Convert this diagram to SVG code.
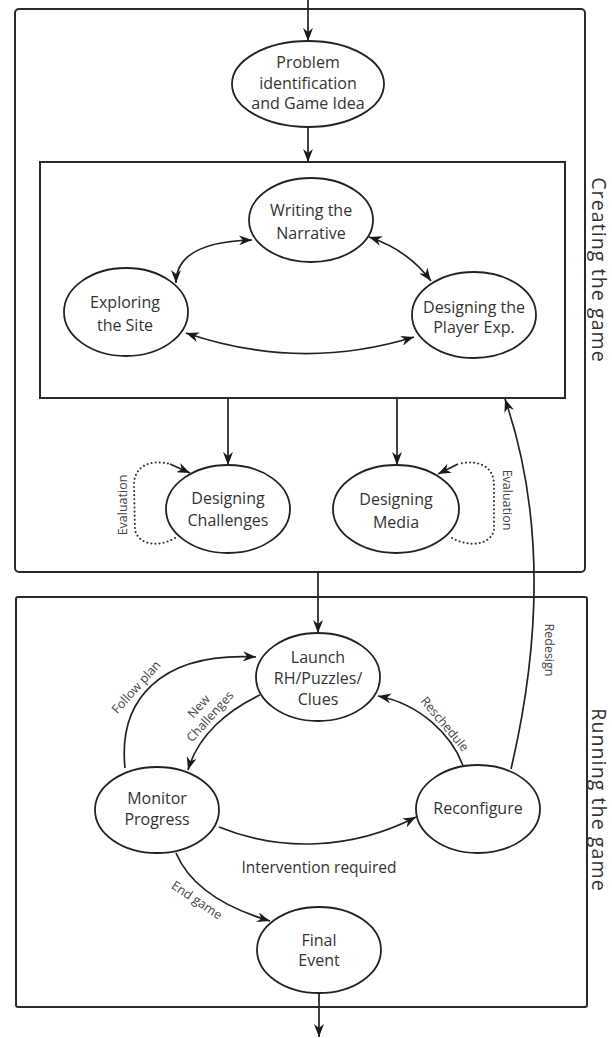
<svg xmlns="http://www.w3.org/2000/svg" width="612" height="1038" viewBox="0 0 612 1038">
  <style>
    .box { fill: none; stroke: #2a2a2a; stroke-width: 2; }
    .node ellipse { fill: #fff; stroke: #222; stroke-width: 1.8; }
    .node text { font-family: "Open Sans", "Noto Sans", sans-serif; font-size: 16px; fill: #333; text-anchor: middle; }
    .edge { fill: none; stroke: #222; stroke-width: 1.7; }
    .arr { marker-end: url(#head); }
    .both { marker-start: url(#head); marker-end: url(#head); }
    .dots { fill: none; stroke: #333; stroke-width: 2; stroke-dasharray: 0.1 4; stroke-linecap: round; }
    .lbl { font-family: "Open Sans", "Noto Sans", sans-serif; font-size: 12.5px; fill: #444; text-anchor: middle; }
    .mid { font-family: "Open Sans", "Noto Sans", sans-serif; font-size: 15.5px; fill: #333; text-anchor: middle; }
    .side { font-family: "Open Sans", "Noto Sans", sans-serif; font-size: 19.5px; fill: #333; text-anchor: middle; letter-spacing: 1.1px; }
  </style>
  <defs>
    <marker id="head" markerUnits="userSpaceOnUse" markerWidth="14" markerHeight="10" refX="13" refY="5" orient="auto-start-reverse">
      <path d="M0,0 L13,5 L0,10 L4,5 Z" fill="#1a1a1a"/>
    </marker>
  </defs>

  <rect width="612" height="1038" fill="#fff"/>

  <!-- phase frames -->
  <g id="creating-frame">
    <rect class="box" x="15" y="9" width="570" height="563" rx="4"/>
    <rect class="box" x="40" y="162" width="525" height="236"/>
    <text class="side" transform="translate(599,270) rotate(90)" dominant-baseline="central">Creating the game</text>
  </g>
  <g id="running-frame">
    <rect class="box" x="16" y="597" width="571" height="410" rx="2"/>
    <text class="side" transform="translate(599,800) rotate(90)" dominant-baseline="central">Running the game</text>
  </g>

  <!-- connectors -->
  <g id="connectors">
    <line class="edge arr" x1="308" y1="0" x2="308" y2="41"/>
    <line class="edge arr" x1="308" y1="127" x2="308" y2="162"/>
    <path class="edge both" d="M252,240 Q176,242 176,283"/>
    <path class="edge both" d="M369,237 Q408,250 431,281"/>
    <path class="edge both" d="M186,333 Q300,372 414,337"/>
    <line class="edge arr" x1="228" y1="398" x2="228" y2="465"/>
    <line class="edge arr" x1="397" y1="398" x2="397" y2="465"/>
    <path class="dots" d="M175,538 C160,547 139,546 135,530 L134,485 C134,466 150,459 170,464"/>
    <path class="edge arr" d="M170,464 L190,473"/>
    <path class="dots" d="M452,538 C468,547 490,546 494,530 L494,485 C494,466 478,459 458,464"/>
    <path class="edge arr" d="M458,464 L438,474"/>
    <line class="edge arr" x1="318" y1="572" x2="318" y2="633"/>
    <path class="edge arr" d="M511,769 Q560,560 505,399"/>
    <path class="edge arr" d="M125,768 C118,700 160,652 256,657"/>
    <path class="edge arr" d="M260,695 C228,710 198,735 188,770"/>
    <path class="edge arr" d="M463,766 C452,735 420,704 378,696"/>
    <path class="edge arr" d="M219,827 C280,852 352,850 416,817"/>
    <path class="edge arr" d="M176,853 C190,886 226,908 270,921"/>
    <line class="edge arr" x1="319" y1="993" x2="319" y2="1037"/>
  </g>

  <!-- edge labels -->
  <g id="edge-labels">
    <text class="lbl" transform="translate(122,505) rotate(-90)" dominant-baseline="central">Evaluation</text>
    <text class="lbl" transform="translate(507,500) rotate(90)" dominant-baseline="central">Evaluation</text>
    <text class="lbl" transform="translate(549,650) rotate(90)" dominant-baseline="central">Redesign</text>
    <text class="lbl" transform="translate(136,687) rotate(-48)" dominant-baseline="central">Follow plan</text>
    <text class="lbl" transform="translate(205,712) rotate(-48)"><tspan x="0" y="-4">New</tspan><tspan x="0" y="11">Challenges</tspan></text>
    <text class="lbl" transform="translate(445,724) rotate(50)" dominant-baseline="central">Reschedule</text>
    <text class="lbl" transform="translate(197,900) rotate(34)" dominant-baseline="central">End game</text>
    <text class="mid" x="319" y="873">Intervention required</text>
  </g>

  <!-- nodes -->
  <g id="problem" class="node">
    <ellipse cx="308" cy="84" rx="76" ry="43"/>
    <text x="308" y="68">Problem</text>
    <text x="308" y="89">identification</text>
    <text x="308" y="109">and Game Idea</text>
  </g>
  <g id="narrative" class="node">
    <ellipse cx="311" cy="220" rx="62" ry="42"/>
    <text x="311" y="216">Writing the</text>
    <text x="311" y="239">Narrative</text>
  </g>
  <g id="site" class="node">
    <ellipse cx="126" cy="312" rx="62" ry="44"/>
    <text x="125" y="308">Exploring</text>
    <text x="125" y="331">the Site</text>
  </g>
  <g id="player-exp" class="node">
    <ellipse cx="474" cy="315" rx="62" ry="43"/>
    <text x="474" y="313">Designing the</text>
    <text x="474" y="333">Player Exp.</text>
  </g>
  <g id="challenges" class="node">
    <ellipse cx="228" cy="509" rx="62" ry="44"/>
    <text x="228" y="504">Designing</text>
    <text x="228" y="526">Challenges</text>
  </g>
  <g id="media" class="node">
    <ellipse cx="396" cy="509" rx="63" ry="44"/>
    <text x="396" y="505">Designing</text>
    <text x="396" y="528">Media</text>
  </g>
  <g id="launch" class="node">
    <ellipse cx="318" cy="677" rx="62" ry="44"/>
    <text x="318" y="663">Launch</text>
    <text x="318" y="684">RH/Puzzles/</text>
    <text x="318" y="705">Clues</text>
  </g>
  <g id="monitor" class="node">
    <ellipse cx="157" cy="810" rx="62" ry="43"/>
    <text x="157" y="804">Monitor</text>
    <text x="157" y="825">Progress</text>
  </g>
  <g id="reconfigure" class="node">
    <ellipse cx="478" cy="809" rx="62" ry="44"/>
    <text x="478" y="814">Reconfigure</text>
  </g>
  <g id="final-event" class="node">
    <ellipse cx="319" cy="950" rx="62" ry="43"/>
    <text x="319" y="946">Final</text>
    <text x="319" y="966">Event</text>
  </g>
</svg>
